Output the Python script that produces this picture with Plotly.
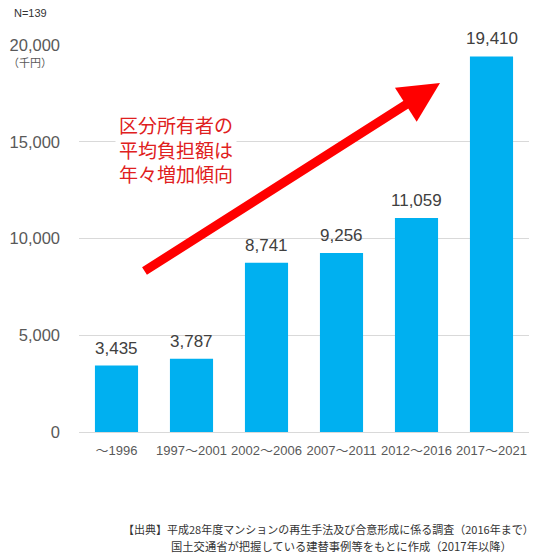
"""
区分所有者の平均負担額（建替え時期別）を棒グラフで再現する。
"""
import plotly.graph_objects as go

# --- Data ---
PERIODS = ["～1996", "1997～2001", "2002～2006", "2007～2011", "2012～2016", "2017～2021"]
BURDEN_K_YEN = [3435, 3787, 8741, 9256, 11059, 19410]
Y_TICKS = [0, 5000, 10000, 15000, 20000]
Y_TICK_LABELS = ["0", "5,000", "10,000", "15,000", "20,000"]

SAMPLE_NOTE = "N=139"
UNIT_NOTE = "（千円）"
CALLOUT = "区分所有者の<br>平均負担額は<br>年々増加傾向"
SOURCE_LINE_1 = "【出典】平成28年度マンションの再生手法及び合意形成に係る調査（2016年まで）"
SOURCE_LINE_2 = "国土交通省が把握している建替事例等をもとに作成（2017年以降）"

# --- Style ---
BAR_COLOR = "#00B0F0"
GRID_COLOR = "#D9D9D9"
TEXT_GRAY = "#595959"
RED = "#E02020"
LATIN = "Liberation Sans, Arial, Noto Sans CJK JP, sans-serif"
CJK = "Noto Sans CJK JP, sans-serif"
OUTPUT_HTML_FILE = "out.html"

# page body adds an 8px margin, so the figure is drawn 8px smaller
FIG_W, FIG_H = 532, 552
PLOT_L, PLOT_T, PLOT_W, PLOT_H = 79, 45, 450, 387  # in reference pixels


def px(x):
    """reference x pixel -> plot-area fraction"""
    return (x - PLOT_L) / PLOT_W


def py(y):
    """reference y pixel -> plot-area fraction"""
    return (PLOT_T + PLOT_H - y) / PLOT_H


def note(fig, x, y, text, font, xanchor="center"):
    fig.add_annotation(
        xref="paper", yref="paper", x=px(x), y=py(y),
        xanchor=xanchor, yanchor="middle", text=text, showarrow=False,
        font=font,
    )


def build_chart():
    fig = go.Figure()
    fig.add_trace(go.Bar(
        x=PERIODS,
        y=BURDEN_K_YEN,
        marker=dict(color=BAR_COLOR, line=dict(width=0)),
        width=0.575,
        hoverinfo="x+y",
    ))

    # value labels above the bars
    for period, value in zip(PERIODS, BURDEN_K_YEN):
        fig.add_annotation(
            x=period, y=value, text=f"{value:,}", showarrow=False,
            yanchor="bottom", yshift=6,
            font=dict(family=LATIN, size=17, color="#404040"),
        )

    fig.update_layout(
        width=FIG_W,
        height=FIG_H,
        margin=dict(l=PLOT_L - 8, r=FIG_W - (PLOT_L - 8 + PLOT_W),
                    t=PLOT_T - 8, b=FIG_H - (PLOT_T - 8 + PLOT_H)),
        paper_bgcolor="white",
        plot_bgcolor="white",
        showlegend=False,
        font=dict(family=LATIN, color=TEXT_GRAY),
    )
    fig.update_yaxes(
        range=[0, 20000],
        tickvals=Y_TICKS,
        ticktext=Y_TICK_LABELS,
        tickfont=dict(size=16.5, color=TEXT_GRAY),
        showgrid=True,
        gridcolor=GRID_COLOR,
        gridwidth=1,
        zeroline=False,
        showline=False,
        ticklabelstandoff=18,
        automargin=False,
    )
    fig.update_xaxes(
        tickfont=dict(size=13, color=TEXT_GRAY),
        tickangle=0,
        showline=True,
        linecolor=GRID_COLOR,
        linewidth=1,
        ticks="",
        ticklabelstandoff=6,
        automargin=False,
    )

    # red trend arrow
    fig.add_annotation(
        xref="paper", yref="paper", x=px(440), y=py(83),
        ax=143 - 440, ay=272 - 83, axref="pixel", ayref="pixel",
        text="", showarrow=True,
        arrowhead=2, arrowsize=0.9, arrowwidth=9, arrowcolor="#FF0000",
        standoff=0,
    )
    # callout text, white box hides the gridline behind it
    fig.add_annotation(
        xref="paper", yref="paper", x=px(176), y=py(149),
        xanchor="center", yanchor="middle",
        text=CALLOUT, showarrow=False, align="center",
        font=dict(family=CJK, size=19, color=RED),
        bgcolor="white", borderpad=3,
    )

    # corner notes
    note(fig, 12, 13, SAMPLE_NOTE, dict(family=LATIN, size=11, color="#333333"), xanchor="left")
    note(fig, 30, 62, UNIT_NOTE, dict(family=CJK, size=11, color=TEXT_GRAY))

    # source footnote
    note(fig, 328, 529, SOURCE_LINE_1, dict(family=CJK, size=11, color="#333333"))
    note(fig, 341, 546, SOURCE_LINE_2, dict(family=CJK, size=11.3, color="#333333"))
    return fig


def main():
    fig = build_chart()
    fig.write_html(OUTPUT_HTML_FILE)


if __name__ == "__main__":
    main()
